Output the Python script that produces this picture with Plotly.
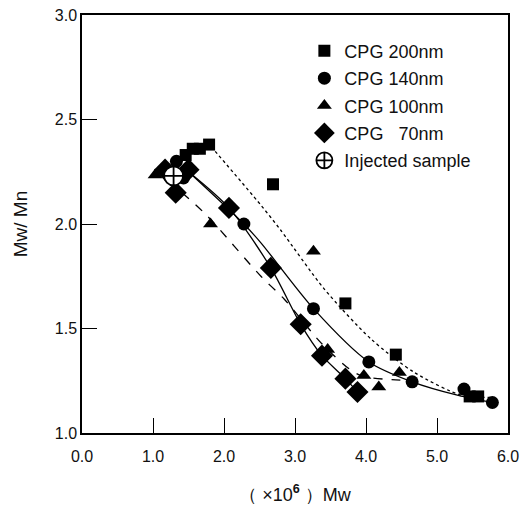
import plotly.graph_objects as go

# measured points (x in 10^6, y = Mw/Mn)
x_200 = [1.46, 1.56, 1.66, 1.79, 2.69, 3.71, 4.42, 5.46, 5.58]
y_200 = [2.33, 2.36, 2.36, 2.38, 2.19, 1.62, 1.375, 1.175, 1.175]

x_140 = [1.33, 1.43, 2.28, 3.26, 4.04, 4.65, 5.38, 5.78]
y_140 = [2.30, 2.22, 2.00, 1.595, 1.34, 1.245, 1.21, 1.146]

x_100 = [1.03, 1.81, 3.26, 3.46, 3.97, 4.18, 4.47]
y_100 = [2.235, 2.00, 1.87, 1.40, 1.275, 1.22, 1.29]

x_70 = [1.17, 1.50, 1.32, 2.07, 2.66, 3.08, 3.38, 3.71, 3.88]
y_70 = [2.26, 2.26, 2.15, 2.077, 1.79, 1.52, 1.37, 1.26, 1.196]

x_inj = [1.29]
y_inj = [2.23]

# fitted curves
fx_200 = [1.82, 2.52, 2.80, 3.41, 4.07, 4.68, 5.35, 5.75]
fy_200 = [2.37, 2.09, 1.97, 1.69, 1.45, 1.29, 1.18, 1.17]

fx_140 = [1.50, 2.28, 2.52, 3.26, 4.04, 4.65, 5.30, 5.78]
fy_140 = [2.25, 2.00, 1.91, 1.595, 1.34, 1.245, 1.18, 1.146]

fx_100 = [1.41, 1.76, 2.52, 2.85, 3.37, 3.79, 3.97, 4.64]
fy_100 = [2.15, 2.04, 1.75, 1.64, 1.43, 1.30, 1.27, 1.25]

fx_70 = [1.50, 2.07, 2.66, 3.08, 3.38, 3.71, 3.88]
fy_70 = [2.25, 2.077, 1.79, 1.52, 1.37, 1.26, 1.196]

FONT = "Arial, Liberation Sans, sans-serif"
NB = "\u00a0"

fig = go.Figure()

# curves
for fx, fy, dash in [(fx_200, fy_200, "dot"), (fx_140, fy_140, "solid"),
                     (fx_100, fy_100, "dash"), (fx_70, fy_70, "solid")]:
    fig.add_trace(go.Scatter(x=fx, y=fy, mode="lines", showlegend=False,
                             line=dict(color="black", width=1.3, dash=dash, shape="spline", smoothing=0.8),
                             hoverinfo="skip"))

series = [
    ("CPG 200nm", x_200, y_200, "square", 12),
    ("CPG 140nm", x_140, y_140, "circle", 13),
    ("CPG 100nm", x_100, y_100, "triangle-up", 13),
    ("CPG" + NB * 3 + "70nm", x_70, y_70, "diamond", 17),
]
for i, (name, xs, ys, sym, sz) in enumerate(series):
    fig.add_trace(go.Scatter(x=xs, y=ys, mode="markers", name=name, legendgroup=str(i),
                             marker=dict(symbol=sym, size=sz, color="black", line=dict(width=0))))

fig.add_trace(go.Scatter(x=x_inj, y=y_inj, mode="markers", name="Injected sample", legendgroup="5",
                         marker=dict(symbol="circle-cross", size=19, color="white",
                                     line=dict(color="black", width=1.8))))

fig.update_layout(
    width=526, height=506,
    margin=dict(l=82, r=18, t=15, b=73),
    paper_bgcolor="white", plot_bgcolor="white",
    font=dict(family=FONT, size=16, color="#111"),
    legend=dict(x=0.522, y=0.958, xanchor="left", yanchor="top",
                bgcolor="rgba(0,0,0,0)", font=dict(size=18),
                traceorder="grouped", tracegroupgap=1, itemsizing="trace"),
)
fig.update_xaxes(range=[0, 6], tickvals=[0, 1, 2, 3, 4, 5, 6], tickformat=".1f",
                 ticks="inside", ticklen=15, tickcolor="black", tickwidth=1.3,
                 ticklabelstandoff=8,
                 showline=True, linecolor="black", linewidth=1.5, mirror=True,
                 showgrid=False, zeroline=False, automargin=False,
                 title=dict(text="（ ×10<sup><b>6</b></sup> ）Mw", standoff=24, font=dict(size=18)))
fig.update_yaxes(range=[1, 3], tickvals=[1.0, 1.5, 2.0, 2.5, 3.0], tickformat=".1f",
                 ticks="inside", ticklen=15, tickcolor="black", tickwidth=1.3,
                 showline=True, linecolor="black", linewidth=1.5, mirror=True,
                 showgrid=False, zeroline=False, automargin=False,
                 title=dict(text="Mw/ Mn", standoff=22, font=dict(size=19)))

# drop the default body margin so the figure sits at the page origin
fig.write_html("out.html", config={"displayModeBar": False},
               post_script="document.body.style.margin='0';")
